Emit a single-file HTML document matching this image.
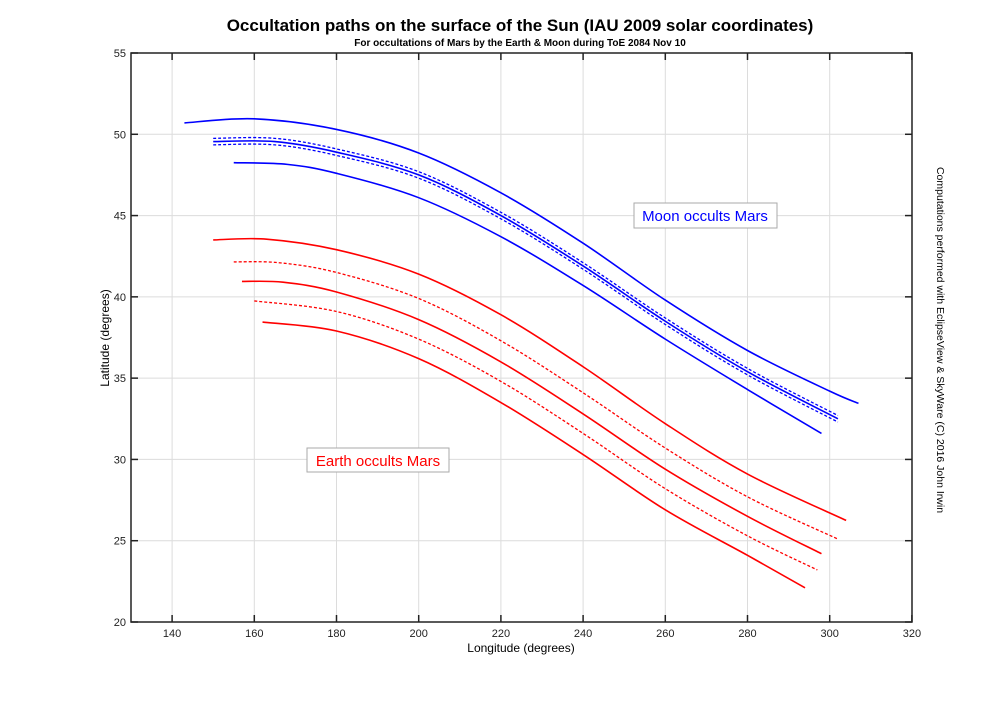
<!DOCTYPE html>
<html><head><meta charset="utf-8"><style>
body{margin:0;background:#fff;}
svg text{font-family:"Liberation Sans",Arial,sans-serif;}
</style></head><body>
<svg id="s" width="1008" height="700" xmlns="http://www.w3.org/2000/svg">
<rect width="1008" height="700" fill="#fff"/>
<g id="grid" stroke="#dcdcdc" stroke-width="1"></g>
<g id="curves" fill="none" stroke-width="1.6"></g>
<rect x="131" y="53" width="781" height="569" fill="none" stroke="#222" stroke-width="1.5"/>
<g id="ticks" stroke="#222" stroke-width="1.5"></g>
<g id="lbl" font-size="11" fill="#222"></g>
<text x="520" y="31" font-size="17" font-weight="bold" text-anchor="middle" fill="#000">Occultation paths on the surface of the Sun (IAU 2009 solar coordinates)</text>
<text x="520" y="46" font-size="10" font-weight="bold" text-anchor="middle" fill="#000">For occultations of Mars by the Earth &amp; Moon during ToE 2084 Nov 10</text>
<text x="521" y="652" font-size="12" text-anchor="middle" fill="#000">Longitude (degrees)</text>
<text transform="translate(109,338) rotate(-90)" font-size="12" text-anchor="middle" fill="#000">Latitude (degrees)</text>
<text transform="translate(937,340) rotate(90)" font-size="10.5" text-anchor="middle" fill="#000">Computations performed with EclipseView &amp; SkyWare (C) 2016 John Irwin</text>
<rect x="634" y="203" width="143" height="25" fill="#fff" stroke="#aaa"/>
<text x="705" y="221" font-size="15" text-anchor="middle" fill="#0000ff">Moon occults Mars</text>
<rect x="307" y="448" width="142" height="24" fill="#fff" stroke="#aaa"/>
<text x="378" y="466" font-size="15" text-anchor="middle" fill="#ff0000">Earth occults Mars</text>
</svg>
<script>
const NS="http://www.w3.org/2000/svg";
const X=v=>131+(v-130)*4.11, Y=v=>53+(55-v)*16.257;
function el(p,t,a){const e=document.createElementNS(NS,t);for(const k in a)e.setAttribute(k,a[k]);p.appendChild(e);return e;}
const g=document.getElementById('grid'),tk=document.getElementById('ticks'),lb=document.getElementById('lbl');
for(let v=140;v<=320;v+=20){const x=X(v);el(g,'line',{x1:x,y1:53,x2:x,y2:622});el(tk,'line',{x1:x,y1:622,x2:x,y2:615});el(tk,'line',{x1:x,y1:53,x2:x,y2:60});const t=el(lb,'text',{x:x,y:637,'text-anchor':'middle'});t.textContent=v;}
for(let v=20;v<=55;v+=5){const y=Y(v);el(g,'line',{x1:131,y1:y,x2:912,y2:y});el(tk,'line',{x1:131,y1:y,x2:138,y2:y});el(tk,'line',{x1:912,y1:y,x2:905,y2:y});const t=el(lb,'text',{x:126,y:y+4,'text-anchor':'end'});t.textContent=v;}
function path(pts,dy){pts=pts.map(p=>[X(p[0]),Y(p[1]+(dy||0))]);let d='M'+pts[0];for(let i=0;i<pts.length-1;i++){const p0=pts[Math.max(i-1,0)],p1=pts[i],p2=pts[i+1],p3=pts[Math.min(i+2,pts.length-1)];d+='C'+[p1[0]+(p2[0]-p0[0])/6,p1[1]+(p2[1]-p0[1])/6,p2[0]-(p3[0]-p1[0])/6,p2[1]-(p3[1]-p1[1])/6,p2[0],p2[1]].join(' ');}return d;}
const c=document.getElementById('curves');
function add(pts,col,dash,dy){const a={d:path(pts,dy),stroke:col};if(dash){a['stroke-dasharray']='3 2';a['stroke-width']=1.3;}el(c,'path',a);}
const B='#0000ff',R='#ff0000';
add([[143,50.7],[160,50.95],[180,50.3],[200,48.85],[220,46.4],[240,43.3],[260,39.8],[280,36.7],[300,34.2],[307,33.45]],B);
const bm=[[150,49.55],[165,49.55],[180,48.9],[200,47.5],[220,45.0],[240,41.9],[260,38.5],[280,35.4],[302,32.5]];
add(bm,B);add(bm,B,1,0.2);add(bm,B,1,-0.2);
add([[155,48.25],[168,48.15],[180,47.6],[200,46.1],[220,43.7],[240,40.7],[260,37.4],[280,34.3],[298,31.6]],B);
add([[150,43.5],[163,43.55],[180,42.9],[200,41.4],[220,38.9],[240,35.7],[260,32.2],[280,29.1],[304,26.25]],R);
add([[155,42.15],[166,42.1],[180,41.5],[200,39.9],[220,37.3],[240,34.1],[260,30.7],[280,27.7],[302,25.1]],R,1);
add([[157,40.95],[167,40.9],[180,40.3],[200,38.6],[220,36.0],[240,32.8],[260,29.4],[280,26.5],[298,24.2]],R);
add([[160,39.75],[180,39.1],[200,37.4],[220,34.8],[240,31.6],[260,28.2],[280,25.3],[297,23.2]],R,1);
add([[162,38.45],[180,37.9],[200,36.2],[220,33.5],[240,30.3],[260,26.9],[280,24.1],[294,22.1]],R);
</script>
</body></html>
